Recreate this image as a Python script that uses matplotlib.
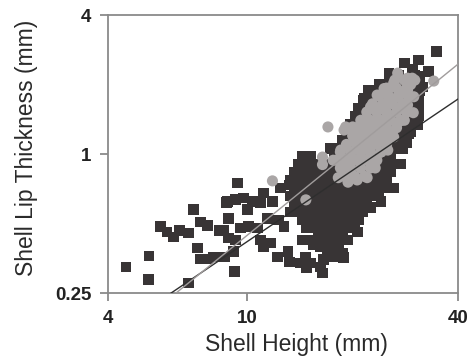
import matplotlib
matplotlib.use("Agg")
import matplotlib.pyplot as plt

# shell height (mm), lip thickness (mm) -- black squares, scattered ones
sq_scatter = [
    (4.50, 0.324), (5.24, 0.362), (5.21, 0.287), (6.78, 0.276), (5.64, 0.485),
    (5.90, 0.459), (6.14, 0.437), (6.39, 0.468), (6.78, 0.455), (7.01, 0.573),
    (7.34, 0.508), (7.69, 0.489), (7.19, 0.392), (7.34, 0.351), (7.69, 0.351),
    (8.00, 0.358), (8.32, 0.468), (8.59, 0.358), (8.71, 0.615), (8.83, 0.433),
    (9.19, 0.311), (9.37, 0.749), (9.13, 0.377), (8.77, 0.621), (9.25, 0.633),
    (9.77, 0.645), (10.35, 0.621), (11.14, 0.678), (12.47, 0.713), (13.17, 0.735),
    (10.91, 0.615), (11.82, 0.621), (10.0, 0.573), (8.83, 0.527), (8.54, 0.468),
    (9.56, 0.478), (10.07, 0.485), (10.69, 0.478), (11.42, 0.527), (12.73, 0.485),
    (12.30, 0.518), (9.25, 0.424), (10.91, 0.424), (11.66, 0.412), (11.14, 0.396),
    (12.23, 0.358), (13.08, 0.377), (13.17, 0.341), (14.39, 0.424), (15.17, 0.424),
    (14.68, 0.355), (15.17, 0.337), (16.2, 0.324), (15.47, 0.404), (16.2, 0.396),
    (17.3, 0.404), (16.95, 0.373), (17.65, 0.358), (16.53, 0.348), (14.2, 0.337),
    (14.77, 0.321), (16.42, 0.305), (18.24, 0.377), (18.85, 0.355), (18.12, 0.424),
    (19.36, 0.424), (20.7, 0.459), (19.74, 0.485), (17.3, 0.446), (27.5, 0.905),
    (26.2, 0.713), (24.1, 0.621), (22.5, 0.585), (19.5, 0.508), (18.7, 0.373),
    (34.7, 2.79), (30.9, 2.555), (28.2, 2.48), (25.4, 2.24), (33.0, 2.27),
    (31.7, 1.95), (30.9, 1.61), (30.7, 1.335), (28.6, 1.12), (22.2, 1.89),
    (21.6, 1.75), (23.6, 1.71), (22.1, 1.445), (24.1, 1.51), (17.5, 1.06),
    (29.9, 2.09), (26.6, 2.09), (29.3, 1.84), (22.8, 1.68), (29.6, 2.33),
    (31.1, 2.16), (31.1, 1.89), (28.9, 1.23), (27.8, 1.12), (30.7, 1.43),
]

# black squares in the dense cloud, read row by row
sq_dense = [
    (25.7, 2.18), (27.1, 2.18), (30.1, 2.18),
    (23.8, 2.01), (25.0, 2.01), (26.4, 2.01), (27.8, 2.01), (29.3, 2.01), (30.9, 2.01),
    (23.1, 1.86), (24.4, 1.86), (25.7, 1.86), (27.1, 1.86), (28.55, 1.86), (30.1, 1.86),
    (21.4, 1.71), (22.5, 1.71), (23.8, 1.71), (25.0, 1.71), (26.4, 1.71), (27.8, 1.71),
    (29.3, 1.71), (30.9, 1.71),
    (20.8, 1.58), (21.95, 1.58), (23.1, 1.58), (24.4, 1.58), (25.7, 1.58), (27.1, 1.58),
    (28.55, 1.58), (30.1, 1.58),
    (20.3, 1.46), (21.4, 1.46), (22.5, 1.46), (23.8, 1.46), (25.0, 1.46), (26.4, 1.46),
    (27.8, 1.46), (29.3, 1.46), (30.9, 1.46),
    (19.75, 1.35), (20.8, 1.35), (21.95, 1.35), (23.1, 1.35), (24.4, 1.35), (25.7, 1.35),
    (27.1, 1.35), (28.55, 1.35),
    (19.2, 1.25), (20.3, 1.25), (21.4, 1.25), (22.5, 1.25), (23.8, 1.25), (25.0, 1.25),
    (26.4, 1.25), (27.8, 1.25), (29.3, 1.25),
    (18.7, 1.15), (19.75, 1.15), (20.8, 1.15), (21.95, 1.15), (23.1, 1.15), (24.4, 1.15),
    (25.7, 1.15), (27.1, 1.15),
    (17.3, 1.06), (18.2, 1.06), (19.2, 1.06), (20.3, 1.06), (21.4, 1.06), (22.5, 1.06),
    (23.8, 1.06), (25.0, 1.06), (26.4, 1.06), (27.8, 1.06),
    (14.4, 0.98), (15.2, 0.98), (17.75, 0.98), (18.7, 0.98), (19.75, 0.98), (20.8, 0.98),
    (21.95, 0.98), (23.1, 0.98), (24.4, 0.98), (25.7, 0.98),
    (14.0, 0.905), (14.8, 0.905), (15.6, 0.905), (16.4, 0.905), (17.3, 0.905), (18.2, 0.905),
    (19.2, 0.905), (20.3, 0.905), (21.4, 0.905), (22.5, 0.905), (23.8, 0.905), (25.0, 0.905),
    (26.4, 0.905),
    (13.65, 0.836), (14.4, 0.836), (15.2, 0.836), (16.0, 0.836), (16.85, 0.836), (17.75, 0.836),
    (18.7, 0.836), (19.75, 0.836), (20.8, 0.836), (21.95, 0.836), (23.1, 0.836), (24.4, 0.836),
    (25.7, 0.836),
    (13.3, 0.772), (14.0, 0.772), (14.8, 0.772), (15.6, 0.772), (16.4, 0.772), (17.3, 0.772),
    (18.2, 0.772), (19.2, 0.772), (20.3, 0.772), (21.4, 0.772), (22.5, 0.772), (23.8, 0.772),
    (25.0, 0.772),
    (13.65, 0.713), (14.4, 0.713), (15.2, 0.713), (16.0, 0.713), (16.85, 0.713), (17.75, 0.713),
    (18.7, 0.713), (19.75, 0.713), (20.8, 0.713), (21.95, 0.713), (23.1, 0.713), (24.4, 0.713),
    (13.3, 0.658), (14.0, 0.658), (14.8, 0.658), (15.6, 0.658), (16.4, 0.658), (17.3, 0.658),
    (18.2, 0.658), (19.2, 0.658), (20.3, 0.658), (21.4, 0.658), (22.5, 0.658), (23.8, 0.658),
    (13.65, 0.608), (14.4, 0.608), (15.2, 0.608), (16.0, 0.608), (16.85, 0.608), (17.75, 0.608),
    (18.7, 0.608), (19.75, 0.608), (20.8, 0.608), (21.95, 0.608),
    (13.3, 0.561), (14.0, 0.561), (14.8, 0.561), (15.6, 0.561), (16.4, 0.561), (17.3, 0.561),
    (18.2, 0.561), (19.2, 0.561), (20.3, 0.561), (21.4, 0.561),
    (14.4, 0.518), (15.2, 0.518), (16.0, 0.518), (16.85, 0.518), (17.75, 0.518), (18.7, 0.518),
    (19.75, 0.518), (20.8, 0.518),
    (14.8, 0.478), (15.6, 0.478), (16.4, 0.478), (17.3, 0.478), (18.2, 0.478), (19.2, 0.478),
    (20.3, 0.478),
    (16.0, 0.442), (16.85, 0.442), (17.75, 0.442), (18.7, 0.442),
    (16.4, 0.408), (17.3, 0.408), (18.2, 0.408),
]

# grey circles, outlying ones
gray_pts = [
    (34.1, 2.07), (28.7, 2.13), (26.2, 2.03), (27.5, 1.86), (25.7, 1.71),
    (29.9, 1.77), (29.8, 1.51), (28.1, 1.40), (25.2, 1.445), (23.5, 1.31),
    (21.5, 1.27), (20.6, 1.185), (22.0, 1.12), (24.1, 1.15), (26.2, 1.185),
    (20.0, 1.31), (19.1, 1.31), (17.0, 1.31), (16.4, 0.97), (16.4, 0.90),
    (18.2, 0.79), (19.4, 0.755), (20.6, 0.772), (22.0, 0.79), (19.7, 0.85),
    (18.7, 0.96), (20.0, 0.955), (21.4, 0.95), (22.5, 0.93), (23.2, 0.87),
    (24.1, 1.02), (25.2, 1.04), (22.2, 1.04), (20.8, 1.04), (20.1, 1.13),
    (21.5, 1.15), (23.2, 1.13), (24.6, 1.185), (25.7, 1.23), (22.5, 1.245),
    (21.1, 1.27), (21.8, 1.40), (23.5, 1.40), (26.9, 1.55), (24.1, 1.60),
    (22.5, 1.60), (27.5, 1.40), (28.7, 1.63), (14.7, 0.633), (11.8, 0.765),
    (26.9, 1.77), (25.2, 1.66), (28.7, 1.89), (26.9, 2.24), (22.5, 1.35),
    (24.1, 1.23), (22.5, 1.15), (25.2, 1.15), (26.9, 1.37), (18.9, 1.27),
    (19.7, 1.29), (18.5, 1.04), (17.6, 0.94), (19.1, 0.90), (23.5, 1.80),
    (25.2, 1.89), (29.3, 2.0), (29.6, 2.13), (24.6, 1.92),
]

# grey circles packed in the band, row by row
gray_band = [
    (26.4, 2.09), (28.1, 2.09), (30.1, 2.09),
    (25.0, 1.93), (26.7, 1.93), (28.55, 1.93),
    (23.8, 1.78), (25.35, 1.78), (27.1, 1.78), (28.9, 1.78),
    (22.8, 1.65), (24.4, 1.65), (26.0, 1.65), (27.8, 1.65),
    (21.95, 1.52), (23.45, 1.52), (25.0, 1.52), (26.7, 1.52), (28.55, 1.52),
    (21.1, 1.40), (22.5, 1.40), (24.1, 1.40), (25.7, 1.40), (27.5, 1.40),
    (20.55, 1.30), (21.95, 1.30), (23.45, 1.30), (25.0, 1.30), (26.7, 1.30),
    (20.0, 1.20), (21.4, 1.20), (22.8, 1.20), (24.4, 1.20), (26.0, 1.20),
    (19.2, 1.10), (20.55, 1.10), (21.95, 1.10), (23.45, 1.10), (25.0, 1.10),
    (18.45, 1.02), (19.75, 1.02), (21.1, 1.02), (22.5, 1.02), (24.1, 1.02),
    (18.0, 0.94), (19.2, 0.94), (20.55, 0.94), (21.95, 0.94), (23.45, 0.94),
    (18.45, 0.87), (19.75, 0.87), (21.1, 0.87), (22.5, 0.87),
    (18.95, 0.80), (20.3, 0.80), (21.65, 0.80),
]

# regression lines (end points)
fit_dark_x = [6.06, 40]
fit_dark_y = [0.25, 1.73]
fit_gray_x = [6.26, 40]
fit_gray_y = [0.25, 2.45]

x_ticks = [4, 10, 40]
y_ticks = [0.25, 1, 4]

plt.rcParams['font.family'] = ['Liberation Sans', 'DejaVu Sans']

fig = plt.figure(figsize=(4.71, 3.59), dpi=100)
ax = fig.add_axes([0.2293, 0.1838, 0.7431, 0.7744])

bx = [p[0] for p in sq_scatter + sq_dense]
by = [p[1] for p in sq_scatter + sq_dense]
ax.scatter(bx, by, marker='s', s=60, color='#383435', edgecolors='none', zorder=2)
gx = [p[0] for p in gray_band + gray_pts]
gy = [p[1] for p in gray_band + gray_pts]
ax.scatter(gx, gy, marker='o', s=64, color='#aaa6a6', edgecolors='none', zorder=3)

ax.plot(fit_dark_x, fit_dark_y, color='#2e2e2e', lw=1.0, zorder=4)
ax.plot(fit_gray_x, fit_gray_y, color='#a09c9c', lw=1.0, zorder=4)

ax.set_xscale('log')
ax.set_yscale('log')
ax.set_xlim(4, 40)
ax.set_ylim(0.25, 4)
ax.set_xticks(x_ticks)
ax.set_xticklabels(['4', '10', '40'])
ax.set_yticks(y_ticks)
ax.set_yticklabels(['0.25', '1', '4'])
ax.minorticks_off()

for s in ax.spines.values():
    s.set_color('#8a8a8a')
    s.set_linewidth(1.3)
ax.tick_params(direction='out', length=6, width=1.3, color='#8a8a8a',
               labelsize=13.5, pad=6)
for lab in ax.get_xticklabels() + ax.get_yticklabels():
    lab.set_fontweight('bold')
    lab.set_color('#222222')

fig.text(296 / 471, 1 - 344 / 359, 'Shell Height (mm)', ha='center', va='center',
         fontsize=16.5, color='#2a2a2a')
fig.text(27 / 471, 1 - 148 / 359, 'Shell Lip Thickness (mm)', ha='center', va='center',
         rotation=90, fontsize=16.5, color='#2a2a2a')

fig.savefig('out.png', dpi=100)
